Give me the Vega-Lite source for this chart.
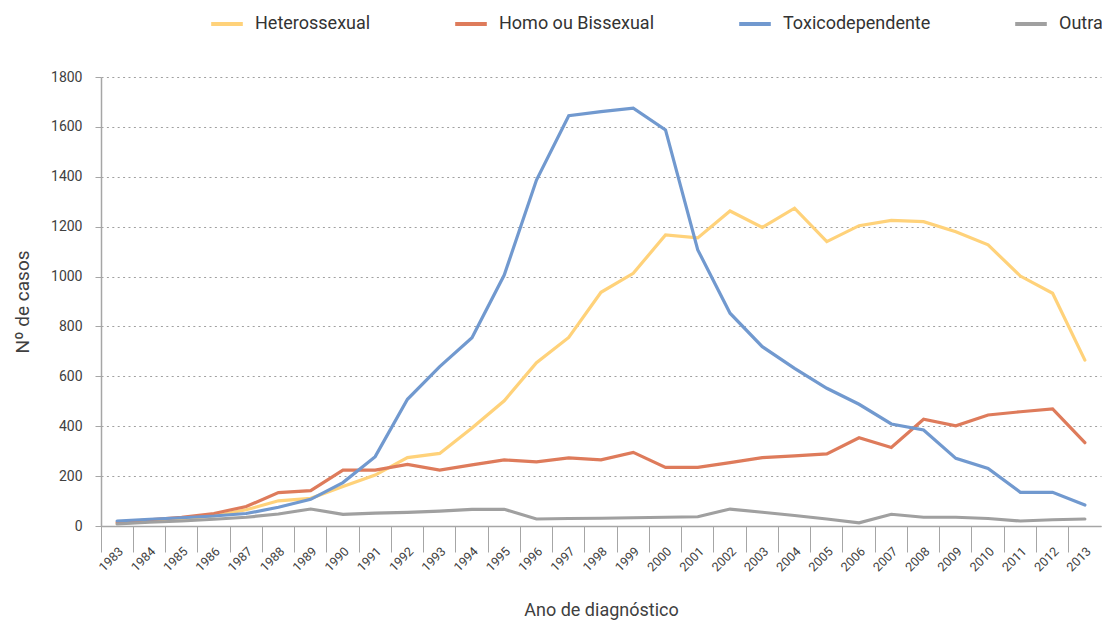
{
  "$schema": "https://vega.github.io/schema/vega-lite/v6.json",
  "width": 1000,
  "height": 449,
  "autosize": {"type": "none"},
  "padding": {"left": 101, "top": 77, "right": 1, "bottom": 95},
  "background": "white",
  "config": {
    "view": {"stroke": null},
    "font": "Roboto",
    "axis": {"labelFont": "Roboto", "titleFont": "Roboto", "labelFontWeight": 300, "titleFontWeight": 300}
  },
  "data": {"values": [
    {"ano":"1983","categoria":"Heterossexual","casos":10},
    {"ano":"1984","categoria":"Heterossexual","casos":18},
    {"ano":"1985","categoria":"Heterossexual","casos":28},
    {"ano":"1986","categoria":"Heterossexual","casos":40},
    {"ano":"1987","categoria":"Heterossexual","casos":65},
    {"ano":"1988","categoria":"Heterossexual","casos":101},
    {"ano":"1989","categoria":"Heterossexual","casos":111},
    {"ano":"1990","categoria":"Heterossexual","casos":158},
    {"ano":"1991","categoria":"Heterossexual","casos":204},
    {"ano":"1992","categoria":"Heterossexual","casos":274},
    {"ano":"1993","categoria":"Heterossexual","casos":291},
    {"ano":"1994","categoria":"Heterossexual","casos":393},
    {"ano":"1995","categoria":"Heterossexual","casos":502},
    {"ano":"1996","categoria":"Heterossexual","casos":655},
    {"ano":"1997","categoria":"Heterossexual","casos":756},
    {"ano":"1998","categoria":"Heterossexual","casos":937},
    {"ano":"1999","categoria":"Heterossexual","casos":1013},
    {"ano":"2000","categoria":"Heterossexual","casos":1167},
    {"ano":"2001","categoria":"Heterossexual","casos":1155},
    {"ano":"2002","categoria":"Heterossexual","casos":1263},
    {"ano":"2003","categoria":"Heterossexual","casos":1197},
    {"ano":"2004","categoria":"Heterossexual","casos":1274},
    {"ano":"2005","categoria":"Heterossexual","casos":1140},
    {"ano":"2006","categoria":"Heterossexual","casos":1204},
    {"ano":"2007","categoria":"Heterossexual","casos":1225},
    {"ano":"2008","categoria":"Heterossexual","casos":1220},
    {"ano":"2009","categoria":"Heterossexual","casos":1180},
    {"ano":"2010","categoria":"Heterossexual","casos":1127},
    {"ano":"2011","categoria":"Heterossexual","casos":1002},
    {"ano":"2012","categoria":"Heterossexual","casos":933},
    {"ano":"2013","categoria":"Heterossexual","casos":665},
    {"ano":"1983","categoria":"Homo ou Bissexual","casos":15},
    {"ano":"1984","categoria":"Homo ou Bissexual","casos":25},
    {"ano":"1985","categoria":"Homo ou Bissexual","casos":35},
    {"ano":"1986","categoria":"Homo ou Bissexual","casos":50},
    {"ano":"1987","categoria":"Homo ou Bissexual","casos":78},
    {"ano":"1988","categoria":"Homo ou Bissexual","casos":134},
    {"ano":"1989","categoria":"Homo ou Bissexual","casos":142},
    {"ano":"1990","categoria":"Homo ou Bissexual","casos":224},
    {"ano":"1991","categoria":"Homo ou Bissexual","casos":224},
    {"ano":"1992","categoria":"Homo ou Bissexual","casos":247},
    {"ano":"1993","categoria":"Homo ou Bissexual","casos":224},
    {"ano":"1994","categoria":"Homo ou Bissexual","casos":245},
    {"ano":"1995","categoria":"Homo ou Bissexual","casos":265},
    {"ano":"1996","categoria":"Homo ou Bissexual","casos":257},
    {"ano":"1997","categoria":"Homo ou Bissexual","casos":273},
    {"ano":"1998","categoria":"Homo ou Bissexual","casos":265},
    {"ano":"1999","categoria":"Homo ou Bissexual","casos":295},
    {"ano":"2000","categoria":"Homo ou Bissexual","casos":235},
    {"ano":"2001","categoria":"Homo ou Bissexual","casos":235},
    {"ano":"2002","categoria":"Homo ou Bissexual","casos":254},
    {"ano":"2003","categoria":"Homo ou Bissexual","casos":274},
    {"ano":"2004","categoria":"Homo ou Bissexual","casos":281},
    {"ano":"2005","categoria":"Homo ou Bissexual","casos":289},
    {"ano":"2006","categoria":"Homo ou Bissexual","casos":354},
    {"ano":"2007","categoria":"Homo ou Bissexual","casos":315},
    {"ano":"2008","categoria":"Homo ou Bissexual","casos":428},
    {"ano":"2009","categoria":"Homo ou Bissexual","casos":402},
    {"ano":"2010","categoria":"Homo ou Bissexual","casos":445},
    {"ano":"2011","categoria":"Homo ou Bissexual","casos":458},
    {"ano":"2012","categoria":"Homo ou Bissexual","casos":469},
    {"ano":"2013","categoria":"Homo ou Bissexual","casos":334},
    {"ano":"1983","categoria":"Toxicodependente","casos":20},
    {"ano":"1984","categoria":"Toxicodependente","casos":27},
    {"ano":"1985","categoria":"Toxicodependente","casos":33},
    {"ano":"1986","categoria":"Toxicodependente","casos":40},
    {"ano":"1987","categoria":"Toxicodependente","casos":50},
    {"ano":"1988","categoria":"Toxicodependente","casos":75},
    {"ano":"1989","categoria":"Toxicodependente","casos":107},
    {"ano":"1990","categoria":"Toxicodependente","casos":174},
    {"ano":"1991","categoria":"Toxicodependente","casos":278},
    {"ano":"1992","categoria":"Toxicodependente","casos":508},
    {"ano":"1993","categoria":"Toxicodependente","casos":639},
    {"ano":"1994","categoria":"Toxicodependente","casos":755},
    {"ano":"1995","categoria":"Toxicodependente","casos":1006},
    {"ano":"1996","categoria":"Toxicodependente","casos":1387},
    {"ano":"1997","categoria":"Toxicodependente","casos":1645},
    {"ano":"1998","categoria":"Toxicodependente","casos":1661},
    {"ano":"1999","categoria":"Toxicodependente","casos":1675},
    {"ano":"2000","categoria":"Toxicodependente","casos":1588},
    {"ano":"2001","categoria":"Toxicodependente","casos":1107},
    {"ano":"2002","categoria":"Toxicodependente","casos":853},
    {"ano":"2003","categoria":"Toxicodependente","casos":719},
    {"ano":"2004","categoria":"Toxicodependente","casos":632},
    {"ano":"2005","categoria":"Toxicodependente","casos":552},
    {"ano":"2006","categoria":"Toxicodependente","casos":488},
    {"ano":"2007","categoria":"Toxicodependente","casos":409},
    {"ano":"2008","categoria":"Toxicodependente","casos":385},
    {"ano":"2009","categoria":"Toxicodependente","casos":271},
    {"ano":"2010","categoria":"Toxicodependente","casos":231},
    {"ano":"2011","categoria":"Toxicodependente","casos":135},
    {"ano":"2012","categoria":"Toxicodependente","casos":135},
    {"ano":"2013","categoria":"Toxicodependente","casos":84},
    {"ano":"1983","categoria":"Outra","casos":8},
    {"ano":"1984","categoria":"Outra","casos":15},
    {"ano":"1985","categoria":"Outra","casos":20},
    {"ano":"1986","categoria":"Outra","casos":27},
    {"ano":"1987","categoria":"Outra","casos":35},
    {"ano":"1988","categoria":"Outra","casos":48},
    {"ano":"1989","categoria":"Outra","casos":68},
    {"ano":"1990","categoria":"Outra","casos":47},
    {"ano":"1991","categoria":"Outra","casos":52},
    {"ano":"1992","categoria":"Outra","casos":55},
    {"ano":"1993","categoria":"Outra","casos":60},
    {"ano":"1994","categoria":"Outra","casos":67},
    {"ano":"1995","categoria":"Outra","casos":67},
    {"ano":"1996","categoria":"Outra","casos":28},
    {"ano":"1997","categoria":"Outra","casos":30},
    {"ano":"1998","categoria":"Outra","casos":31},
    {"ano":"1999","categoria":"Outra","casos":33},
    {"ano":"2000","categoria":"Outra","casos":35},
    {"ano":"2001","categoria":"Outra","casos":37},
    {"ano":"2002","categoria":"Outra","casos":68},
    {"ano":"2003","categoria":"Outra","casos":55},
    {"ano":"2004","categoria":"Outra","casos":42},
    {"ano":"2005","categoria":"Outra","casos":28},
    {"ano":"2006","categoria":"Outra","casos":13},
    {"ano":"2007","categoria":"Outra","casos":47},
    {"ano":"2008","categoria":"Outra","casos":35},
    {"ano":"2009","categoria":"Outra","casos":35},
    {"ano":"2010","categoria":"Outra","casos":30},
    {"ano":"2011","categoria":"Outra","casos":20},
    {"ano":"2012","categoria":"Outra","casos":25},
    {"ano":"2013","categoria":"Outra","casos":28}
  ]},
  "mark": {"type": "line", "strokeWidth": 3.2, "strokeJoin": "miter", "strokeCap": "round"},
  "encoding": {
    "x": {
      "field": "ano", "type": "ordinal", "bandPosition": 0.5,
      "scale": {"type": "band", "paddingInner": 0, "paddingOuter": 0},
      "axis": {
        "title": "Ano de diagnóstico",
        "titleFontSize": 18, "titleColor": "#404040", "titleY": 75, "titleBaseline": "top", "titleFontWeight": 400,
        "bandPosition": 0,
        "labelOffset": 4,
        "labelAngle": -45, "labelAlign": "right", "labelBaseline": "middle",
        "labelFontSize": 12.5, "labelColor": "#404040", "labelFontWeight": 400,
        "labelPadding": -3,
        "tickSize": 26, "tickColor": "#A6A6A6", "tickWidth": 1,
        "domainColor": "#A6A6A6", "domainWidth": 1.5,
        "grid": false
      }
    },
    "y": {
      "field": "casos", "type": "quantitative",
      "scale": {"domain": [0, 1800], "nice": false, "zero": true},
      "axis": {
        "title": "Nº de casos", "format": "d",
        "titleFontSize": 19, "titleColor": "#404040", "titlePadding": 18, "titleFontWeight": 400,
        "values": [0, 200, 400, 600, 800, 1000, 1200, 1400, 1600, 1800],
        "labelFontSize": 14, "labelColor": "#404040", "labelPadding": 13, "labelFontWeight": 400,
        "tickSize": 6, "tickColor": "#A6A6A6",
        "domainColor": "#A6A6A6", "domainWidth": 1.5,
        "grid": true, "gridColor": "#A0A0A0", "gridDash": [2, 3.4], "gridWidth": 1
      }
    },
    "color": {
      "field": "categoria", "type": "nominal",
      "scale": {
        "domain": ["Heterossexual", "Homo ou Bissexual", "Toxicodependente", "Outra"],
        "range": ["#FFD27A", "#DE7B5B", "#7199CF", "#A0A0A0"]
      },
      "legend": {
        "title": null, "orient": "none", "direction": "horizontal",
        "legendX": 108, "legendY": -71,
        "symbolType": "stroke", "symbolSize": 1000, "symbolStrokeWidth": 4,
        "labelFontSize": 18, "labelColor": "#333333", "labelFont": "Roboto", "labelFontWeight": 400,
        "labelOffset": 10, "columnPadding": 76, "labelLimit": 300
      }
    }
  }
}
